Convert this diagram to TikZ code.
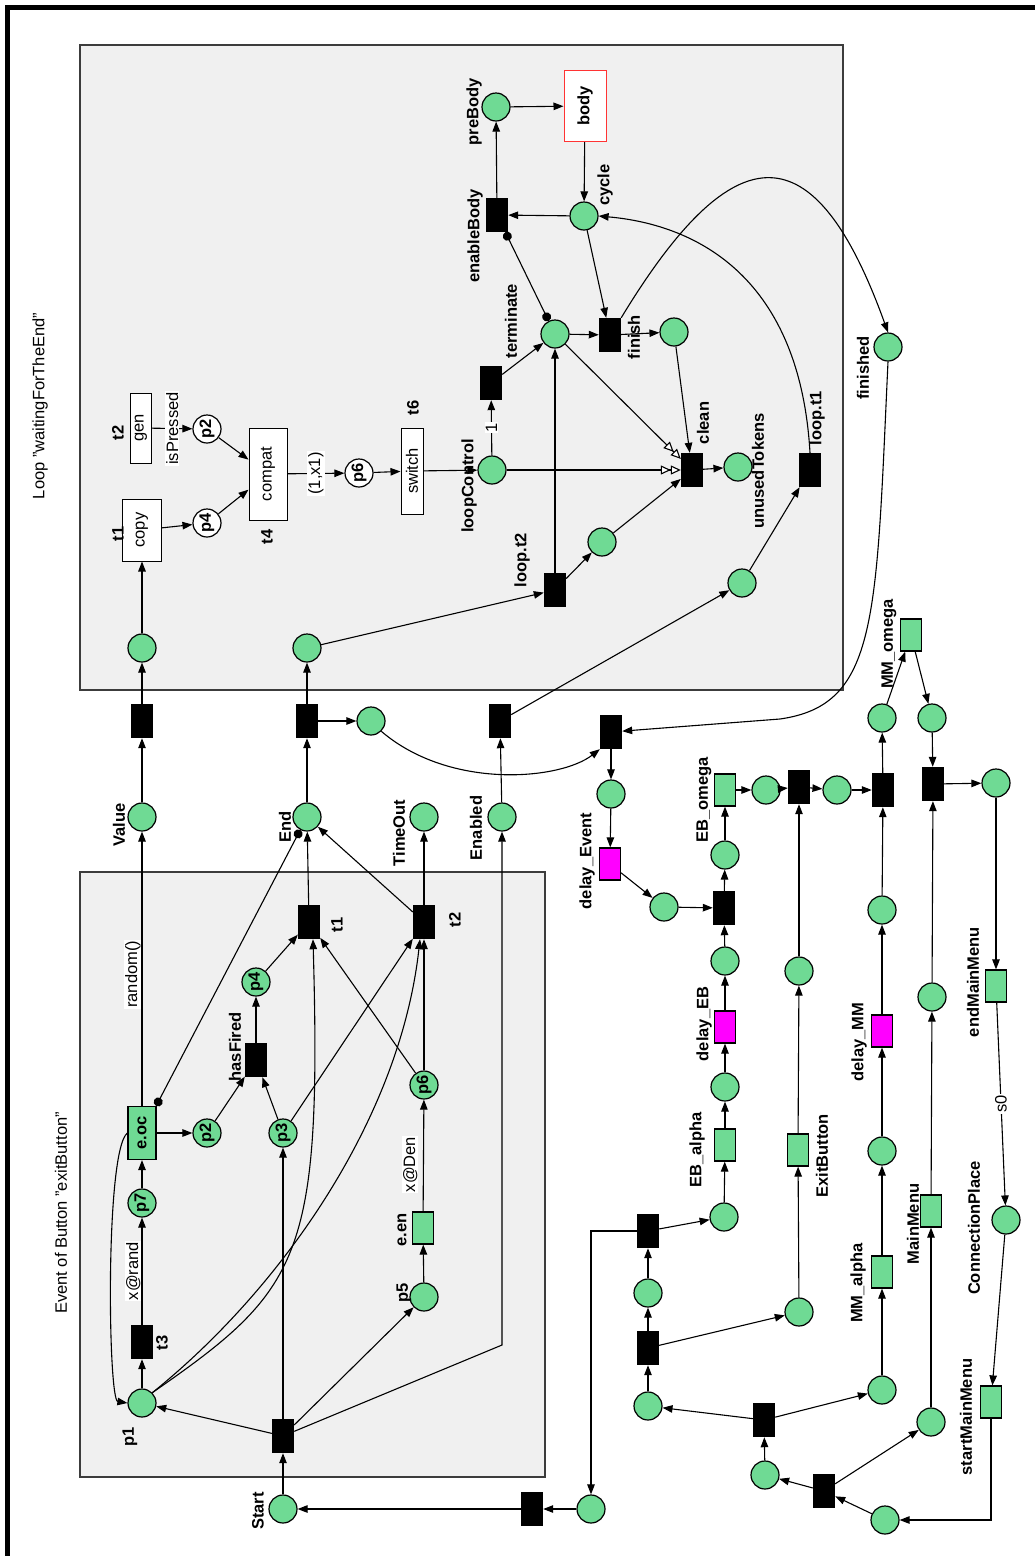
\documentclass[tikz,border=0pt]{standalone}
\usepackage{fontspec}
\setmainfont{Liberation Sans}
\usetikzlibrary{arrows.meta}
\definecolor{pnGreen}{HTML}{6FDA94}
\definecolor{pnPink}{HTML}{FF00FF}
\definecolor{pnGray}{HTML}{F0F0F0}
\definecolor{pnEdge}{HTML}{3C3C3C}
\definecolor{pnRed}{HTML}{FF3333}
\newcommand{\pnfont}{\fontsize{16.5}{18}\selectfont}
\newcommand{\upword}[1]{\rotatebox{90}{#1}}

\begin{document}
\begin{tikzpicture}[x=1pt,y=-1pt,font=\pnfont,
    place/.style={circle,draw,fill=pnGreen,line width=1.2pt,minimum size=28pt,
                  inner sep=0pt,font=\pnfont\bfseries},
    wplace/.style={place,fill=white},
    trans/.style={rectangle,fill=black,minimum width=22pt,minimum height=34pt,inner sep=0pt},
    gtrans/.style={rectangle,draw,line width=1.2pt,fill=pnGreen,minimum width=21pt,
                   minimum height=32pt,inner sep=0pt},
    ptrans/.style={gtrans,fill=pnPink},
    wbox/.style={rectangle,draw,line width=1pt,fill=white,inner sep=0pt},
    tag/.style={rotate=90,font=\pnfont\bfseries,inner sep=0pt},
    elab/.style={rotate=90,fill=white,inner sep=1pt},
    arc/.style={-{Triangle[length=10pt,width=7.5pt]},line width=1.1pt},
    reset/.style={-{Triangle[fill=white,length=10pt,width=9pt]Triangle[fill=white,length=10pt,width=9pt]},
                  line width=1.1pt},
    inhib/.style={{Circle[length=9pt]}-{Circle[length=9pt]},line width=1.1pt},
    frame/.style={draw=pnEdge,fill=pnGray,line width=1.5pt}]
  \useasboundingbox (0,0) rectangle (1035,1556);
  \draw[line width=4.5pt] (7.3,1556) -- (7.3,7.3) -- (1035,7.3);
  \draw[frame] (80,45) rectangle (843,690);
  \draw[frame] (80,872) rectangle (545,1477);
  \node[rotate=90] (loopTitle) at (40,406) {Loop "waitingForTheEnd"};
  \node[rotate=90] (evTitle) at (61,1213) {Event of Button "exitButton"};

  % loop "waitingForTheEnd"
  \node[place] (pre) at (496,107) {};
  \node[wbox,draw=pnRed,minimum width=42pt,minimum height=71pt,font=\pnfont\bfseries] (body) at (585,106) {\upword{body}};
  \node[trans] (enb) at (497,215) {};
  \node[place] (cyc) at (584,216) {};
  \node[place] (pterm) at (555,334) {};
  \node[trans] (term) at (491,383) {};
  \node[trans] (fin) at (610,335) {};
  \node[place] (pfin) at (674,332) {};
  \node[trans] (cln) at (692,470) {};
  \node[place] (unused) at (738,467) {};
  \node[trans] (lt1) at (810,470) {};
  \node[place] (plt1) at (742,583) {};
  \node[trans] (lt2) at (555,590) {};
  \node[place] (plt2) at (602,542) {};
  \node[place] (lc) at (492,470) {};
  \node[wbox,minimum width=22pt,minimum height=86pt] (sw) at (412,471) {\upword{switch}};
  \node[wplace] (lp6) at (359,473) {\upword{p6}};
  \node[wbox,minimum width=38pt,minimum height=92pt] (cmp) at (268,474) {\upword{compat}};
  \node[wplace] (lp2) at (207,429) {\upword{p2}};
  \node[wplace] (lp4) at (207,523) {\upword{p4}};
  \node[wbox,minimum width=21pt,minimum height=70pt] (gen) at (141,428) {\upword{gen}};
  \node[wbox,minimum width=39pt,minimum height=62pt] (cpy) at (142,530) {\upword{copy}};
  \node[place] (inV) at (142,648) {};
  \node[place] (inE) at (307,648) {};
  \node[place] (finished) at (888,347) {};

  % between the boxes and the menu net
  \node[trans] (tV) at (142,721) {};
  \node[trans] (tE) at (307,721) {};
  \node[place] (pEnd) at (371,721) {};
  \node[trans] (tEn) at (500,721) {};
  \node[trans] (tF) at (611,732) {};
  \node[place] (pF) at (611,794) {};
  \node[ptrans] (dEv) at (610,864) {};
  \node[place] (pDE) at (664,907) {};
  \node[trans] (tEB) at (724,908) {};
  \node[place] (pEB) at (725,855) {};
  \node[gtrans] (EBo) at (725,790) {};
  \node[place] (pEBo) at (766,790) {};
  \node[trans] (tX) at (799,787) {};
  \node[place] (pX) at (837,790) {};
  \node[trans] (tMM) at (883,790) {};
  \node[place] (pMo1) at (882,718) {};
  \node[gtrans] (MMo) at (911,635) {};
  \node[place] (pMo2) at (932,718) {};
  \node[trans] (tMain) at (933,784) {};
  \node[place] (pEndMM) at (996,783) {};
  \node[gtrans] (eMM) at (996,986) {};
  \node[place] (conn) at (1006,1220) {};
  \node[gtrans] (sMM) at (991,1402) {};
  \node[place] (pS) at (885,1520) {};
  \node[trans] (tS) at (824,1491) {};
  \node[place] (pS1) at (765,1475) {};
  \node[place] (pS2) at (931,1422) {};
  \node[gtrans] (MM) at (931,1211) {};
  \node[place] (pMM) at (932,997) {};
  \node[trans] (tA) at (764,1420) {};
  \node[place] (pA1) at (648,1406) {};
  \node[place] (pA2) at (882,1390) {};
  \node[gtrans] (MMa) at (882,1272) {};
  \node[place] (pMMa) at (882,1151) {};
  \node[ptrans] (dMM) at (882,1031) {};
  \node[place] (pdMM) at (882,910) {};
  \node[trans] (tB) at (648,1348) {};
  \node[place] (pB1) at (648,1293) {};
  \node[place] (pB2) at (799,1312) {};
  \node[gtrans] (ExB) at (798,1150) {};
  \node[place] (pExB) at (799,971) {};
  \node[trans] (tC) at (648,1231) {};
  \node[place] (pC) at (724,1217) {};
  \node[gtrans] (EBa) at (725,1145) {};
  \node[place] (pEBa) at (725,1087) {};
  \node[ptrans] (dEB) at (725,1027) {};
  \node[place] (pdEB) at (725,961) {};
  \node[place] (pR) at (591,1509) {};
  \node[trans] (tR) at (532,1509) {};

  % event of button "exitButton"
  \node[place] (start) at (283,1509) {};
  \node[trans] (t0) at (283,1436) {};
  \node[place] (p1) at (142,1403) {};
  \node[trans] (et3) at (142,1342) {};
  \node[place] (p7) at (142,1203) {\upword{p7}};
  \node[gtrans,minimum width=28pt,minimum height=53pt,font=\pnfont\bfseries] (eoc) at (142,1133) {\upword{e.oc}};
  \node[place] (p2) at (207,1133) {\upword{p2}};
  \node[place] (p3) at (283,1133) {\upword{p3}};
  \node[trans] (hf) at (256,1060) {};
  \node[place] (p4) at (256,982) {\upword{p4}};
  \node[trans] (et1) at (309,922) {};
  \node[trans] (et2) at (424,922) {};
  \node[place] (p6) at (424,1085) {\upword{p6}};
  \node[gtrans] (een) at (423,1228) {};
  \node[place] (p5) at (424,1297) {};
  \node[place] (val) at (142,817) {};
  \node[place] (endp) at (307,817) {};
  \node[place] (tout) at (424,817) {};
  \node[place] (enab) at (502,817) {};
  \coordinate (cE) at (502,1345);
  \coordinate (cF) at (780,719);

  % names beside places and transitions
  \foreach \n/\x/\y/\t in {lPre/474/112/preBody, lEnb/475/236/enableBody, lCyc/605/185/cycle,
      lTerm/511/321/terminate, lFin/634/337/finish, lCln/703/423/clean, lUnused/758/471/unusedTokens,
      lLt1/817/418/loop.t1, lLt2/522/560/loop.t2, lLc/469/486/loopControl, lT6/413/408/t6,
      lT4/267/537/t4, lT1/118/534/t1, lT2/118/433/t2, lFinished/863/368/finished,
      lDEv/587/861/delay\_Event, lEBo/704/800/EB\_omega, lMMo/889/644/MM\_omega,
      lEMM/973/982/endMainMenu, lConn/974/1228/ConnectionPlace, lSMM/966/1417/startMainMenu,
      lMM/913/1224/MainMenu, lMMa/858/1283/MM\_alpha, lDMM/859/1042/delay\_MM,
      lExB/822/1156/ExitButton, lEBa/697/1150/EB\_alpha, lDEB/704/1024/delay\_EB,
      lStart/258/1511/Start, lP1/130/1437/p1, lT3/162/1343/t3, lP5/404/1293/p5,
      lEen/402/1230/e.en, lHf/235/1047/hasFired, lEt1/337/925/t1, lEt2/455/920/t2,
      lVal/119/825/Value, lEnd/285/827/End, lTout/399/833/TimeOut, lEnab/476/828/Enabled}
    \node[tag] (\n) at (\x,\y) {\t};

  % loop arcs
  \draw[arc] (enb) -- (pre);
  \draw[arc] (pre) -- (body);
  \draw[arc] (body) -- (cyc);
  \draw[arc] (cyc) -- (enb);
  \draw[inhib] (enb) -- (pterm);
  \draw[arc] (cyc) -- (fin);
  \draw[arc] (pterm) -- (fin);
  \draw[arc] (fin) -- (pfin);
  \draw[arc] (term) -- (pterm);
  \draw[arc] (lc) -- node[elab] {1} (term);
  \draw[arc] (lt2) -- (pterm);
  \draw[reset] (pterm) -- (cln);
  \draw[reset] (lc) -- (cln);
  \draw[arc] (pfin) -- (cln);
  \draw[arc] (plt2) -- (cln);
  \draw[arc] (cln) -- (unused);
  \draw[arc] (lt2) -- (plt2);
  \draw[arc] (plt1) -- (lt1);
  \draw[arc] (lt1.north) .. controls (800,280) and (700,225) .. (cyc.east);
  \draw[arc] (fin.north east) .. controls (735,130) and (815,130) .. (finished.north);
  \draw[arc] (inV) -- (cpy);
  \draw[arc] (cpy) -- (lp4);
  \draw[arc] (gen) -- node[elab] {isPressed} (lp2);
  \draw[arc] (lp2) -- (cmp);
  \draw[arc] (lp4) -- (cmp);
  \draw[arc] (cmp) -- node[elab] {(1,x1)} (lp6);
  \draw[arc] (lp6) -- (sw);
  \draw[arc] (sw) -- (lc);
  \draw[arc] (inE) -- (lt2);

  % arcs outside the boxes
  \draw[arc] (val) -- (tV); \draw[arc] (tV) -- (inV);
  \draw[arc] (endp) -- (tE); \draw[arc] (tE) -- (inE); \draw[arc] (tE) -- (pEnd);
  \draw[arc] (enab) -- (tEn); \draw[arc] (tEn) -- (plt1);
  \draw[arc] (pEnd.south east) .. controls (450,790) and (560,780) .. (tF.south west);
  \draw[arc] (finished.south) .. controls (876,620) and (878,705) .. (cF) -- (tF);
  \draw[arc] (tF) -- (pF); \draw[arc] (pF) -- (dEv); \draw[arc] (dEv) -- (pDE); \draw[arc] (pDE) -- (tEB);
  \draw[arc] (pdEB) -- (tEB); \draw[arc] (tEB) -- (pEB); \draw[arc] (pEB) -- (EBo);
  \draw[arc] (EBo) -- (pEBo); \draw[arc] (pEBo) -- (tX); \draw[arc] (tX) -- (pX); \draw[arc] (pX) -- (tMM);
  \draw[arc] (pExB) -- (tX); \draw[arc] (pdMM) -- (tMM);
  \draw[arc] (tMM) -- (pMo1); \draw[arc] (pMo1) -- (MMo); \draw[arc] (MMo) -- (pMo2);
  \draw[arc] (pMo2) -- (tMain); \draw[arc] (tMain) -- (pEndMM); \draw[arc] (pEndMM) -- (eMM);
  \draw[arc] (pMM) -- (tMain);
  \draw[arc] (eMM) -- node[elab] {s0} (conn);
  \draw[arc] (conn) -- (sMM);
  \draw[arc] (sMM.south) |- (pS);
  \draw[arc] (pS) -- (tS); \draw[arc] (tS) -- (pS1); \draw[arc] (tS) -- (pS2);
  \draw[arc] (pS2) -- (MM); \draw[arc] (MM) -- (pMM);
  \draw[arc] (pS1) -- (tA); \draw[arc] (tA) -- (pA1); \draw[arc] (tA) -- (pA2);
  \draw[arc] (pA2) -- (MMa); \draw[arc] (MMa) -- (pMMa); \draw[arc] (pMMa) -- (dMM); \draw[arc] (dMM) -- (pdMM);
  \draw[arc] (pA1) -- (tB); \draw[arc] (tB) -- (pB1); \draw[arc] (tB) -- (pB2);
  \draw[arc] (pB2) -- (ExB); \draw[arc] (ExB) -- (pExB);
  \draw[arc] (pB1) -- (tC); \draw[arc] (tC) -- (pC); \draw[arc] (pC) -- (EBa);
  \draw[arc] (EBa) -- (pEBa); \draw[arc] (pEBa) -- (dEB); \draw[arc] (dEB) -- (pdEB);
  \draw[arc] (tC.west) -| (pR);
  \draw[arc] (pR) -- (tR); \draw[arc] (tR) -- (start);

  % event arcs
  \draw[arc] (start) -- (t0);
  \draw[arc] (t0) -- (p1); \draw[arc] (t0) -- (p3); \draw[arc] (t0) -- (p5);
  \draw[arc] (t0) -- (cE) -- (enab);
  \draw[arc] (p1) -- (et3);
  \draw[arc] (et3) -- node[elab,anchor=south] {x@rand} (p7);
  \draw[arc] (p7) -- (eoc);
  \draw[arc] (eoc) -- (p2);
  \draw[arc] (eoc) -- node[elab,anchor=south,pos=.48] {random()} (val);
  \draw[arc] (eoc.west) .. controls (105,1150) and (108,1400) .. (p1.west);
  \draw[inhib] (eoc) -- (endp);
  \draw[arc] (p2) -- (hf); \draw[arc] (p3) -- (hf); \draw[arc] (hf) -- (p4);
  \draw[arc] (p4) -- (et1); \draw[arc] (et1) -- (endp);
  \draw[arc] (p3) -- (et2);
  \draw[arc] (p6) -- (et1); \draw[arc] (p6) -- (et2);
  \draw[arc] (et2) -- (endp); \draw[arc] (et2) -- (tout);
  \draw[arc] (p1.north east) .. controls (300,1290) and (322,1260) .. ([xshift=4pt]et1.south);
  \draw[arc] (p1.north east) .. controls (280,1290) and (400,1120) .. ([xshift=-4pt]et2.south);
  \draw[arc] (p5) -- (een);
  \draw[arc] (een) -- node[elab,anchor=south,outer sep=5pt,pos=.42] {x@Den} (p6);
\end{tikzpicture}
\end{document}
